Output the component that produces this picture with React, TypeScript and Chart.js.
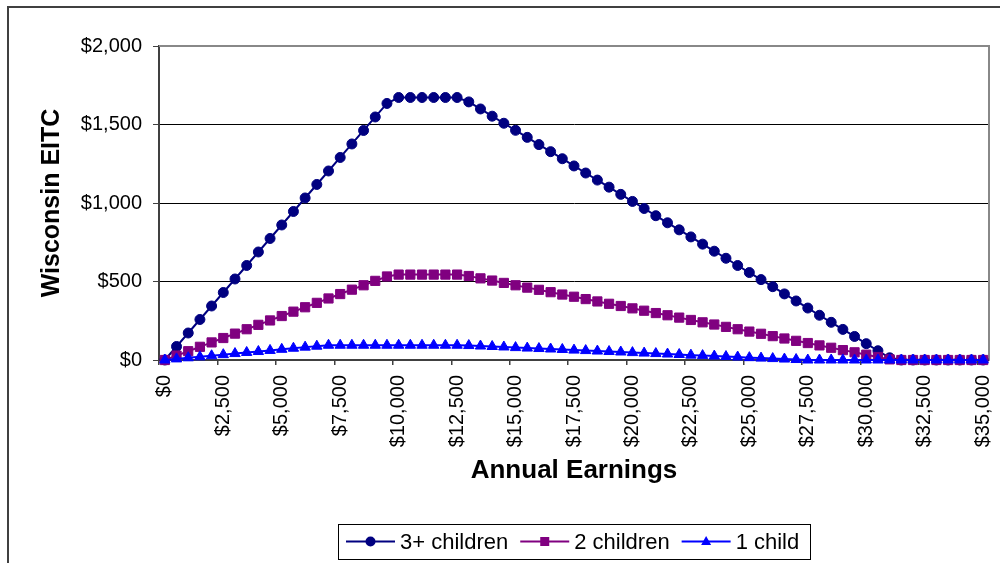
import React, { useEffect, useRef } from 'react';
import { Chart, registerables } from 'chart.js';

Chart.register(...registerables);

const earnings = [
  0, 500, 1000, 1500, 2000, 2500, 3000, 3500, 4000, 4500,
  5000, 5500, 6000, 6500, 7000, 7500, 8000, 8500, 9000, 9500,
  10000, 10500, 11000, 11500, 12000, 12500, 13000, 13500, 14000, 14500,
  15000, 15500, 16000, 16500, 17000, 17500, 18000, 18500, 19000, 19500,
  20000, 20500, 21000, 21500, 22000, 22500, 23000, 23500, 24000, 24500,
  25000, 25500, 26000, 26500, 27000, 27500, 28000, 28500, 29000, 29500,
  30000, 30500, 31000, 31500, 32000, 32500, 33000, 33500, 34000, 34500,
  35000,
];

const threePlusChildren = [
  0, 86, 172, 258, 344, 430, 516, 602, 688, 774,
  860, 946, 1032, 1118, 1204, 1290, 1376, 1462, 1548, 1634,
  1672, 1672, 1672, 1672, 1672, 1672, 1644, 1599, 1553, 1508,
  1463, 1418, 1372, 1327, 1282, 1236, 1191, 1146, 1101, 1055,
  1010, 965, 919, 874, 829, 784, 738, 693, 648, 602,
  557, 512, 467, 421, 376, 331, 285, 240, 195, 150,
  104, 59, 14, 0, 0, 0, 0, 0, 0, 0,
  0,
];

const twoChildren = [
  0, 28, 56, 84, 112, 140, 168, 196, 224, 252,
  280, 308, 336, 364, 392, 420, 448, 476, 504, 532,
  544, 544, 544, 544, 544, 544, 535, 520, 506, 491,
  476, 461, 447, 432, 417, 403, 388, 373, 358, 344,
  329, 314, 299, 285, 270, 255, 240, 226, 211, 196,
  181, 167, 152, 137, 122, 108, 93, 78, 63, 49,
  34, 19, 4, 0, 0, 0, 0, 0, 0, 0,
  0,
];

const oneChild = [
  0, 7, 14, 20, 27, 34, 41, 48, 54, 61,
  68, 75, 82, 88, 94, 94, 94, 94, 94, 94,
  94, 94, 94, 94, 94, 94, 92, 89, 86, 83,
  79, 76, 73, 70, 67, 63, 60, 57, 54, 51,
  47, 44, 41, 38, 35, 31, 28, 25, 22, 19,
  15, 12, 9, 6, 3, 0, 0, 0, 0, 0,
  0, 0, 0, 0, 0, 0, 0, 0, 0, 0,
  0,
];

const yTickValues = [0, 500, 1000, 1500, 2000];
const seriesNames = ['3+ children', '2 children', '1 child'];
const seriesColors = ['#000080', '#800080', '#0000FF'];
const seriesMarkers = ['circle', 'rect', 'triangle'];
const xTitle = 'Annual Earnings';
const yTitle = 'Wisconsin EITC';

const FONT = "'Liberation Sans', Arial, sans-serif";
const money = (v: number) => '$' + Number(v).toLocaleString('en-US');

function drawMarker(ctx: CanvasRenderingContext2D, kind: string, x: number, y: number, color: string) {
  ctx.fillStyle = color;
  ctx.beginPath();
  if (kind === 'circle') {
    ctx.arc(x, y, 5, 0, Math.PI * 2);
  } else if (kind === 'rect') {
    ctx.rect(x - 4.5, y - 4.5, 9, 9);
  } else {
    ctx.moveTo(x, y - 5.5);
    ctx.lineTo(x + 5, y + 3.5);
    ctx.lineTo(x - 5, y + 3.5);
    ctx.closePath();
  }
  ctx.fill();
}

const plotFramePlugin = {
  id: 'plotFrame',
  beforeDatasetsDraw(chart: any) {
    const { ctx, chartArea: a } = chart;
    ctx.save();
    ctx.strokeStyle = '#888888';
    ctx.lineWidth = 2;
    ctx.beginPath();
    ctx.moveTo(a.left, a.top);
    ctx.lineTo(a.right, a.top);
    ctx.lineTo(a.right, a.bottom);
    ctx.stroke();
    ctx.restore();
  },
};

const boxLegendPlugin = {
  id: 'boxLegend',
  afterDraw(chart: any) {
    const { ctx, chartArea: a } = chart;
    ctx.save();
    ctx.font = `22px ${FONT}`;
    const lineLen = 49;
    const gapText = 5;
    const gapItem = 12;
    const padL = 8;
    const padR = 11;
    const items = chart.data.datasets.map((ds: any, i: number) => ({
      label: ds.label as string,
      color: ds.borderColor as string,
      marker: seriesMarkers[i],
      w: ctx.measureText(ds.label).width,
    }));
    const total =
      padL + padR +
      items.reduce((s: number, it: any) => s + lineLen + gapText + it.w, 0) +
      gapItem * (items.length - 1);
    const cx = (a.left + a.right) / 2;
    const left = Math.round(cx - total / 2);
    const top = 524;
    const h = 35;
    const cy = top + h / 2;
    ctx.fillStyle = '#ffffff';
    ctx.fillRect(left, top, total, h);
    ctx.strokeStyle = '#000000';
    ctx.lineWidth = 1;
    ctx.strokeRect(left + 0.5, top + 0.5, Math.round(total), h);
    let x = left + padL;
    for (const it of items) {
      ctx.strokeStyle = it.color;
      ctx.lineWidth = 2;
      ctx.beginPath();
      ctx.moveTo(x, cy);
      ctx.lineTo(x + lineLen, cy);
      ctx.stroke();
      drawMarker(ctx, it.marker, x + lineLen / 2, cy, it.color);
      x += lineLen + gapText;
      ctx.fillStyle = '#000000';
      ctx.textBaseline = 'middle';
      ctx.textAlign = 'left';
      ctx.fillText(it.label, x, cy + 1);
      x += it.w + gapItem;
    }
    ctx.restore();
  },
};

export default function App() {
  const canvasRef = useRef<HTMLCanvasElement | null>(null);

  useEffect(() => {
    const canvas = canvasRef.current;
    if (!canvas) return;
    const seriesData = [threePlusChildren, twoChildren, oneChild];
    const radii = [5, 6.5, 6];
    const chart = new Chart(canvas, {
      type: 'line',
      data: {
        labels: earnings,
        datasets: seriesData.map((d, i) => ({
          label: seriesNames[i],
          data: d,
          borderColor: seriesColors[i],
          backgroundColor: seriesColors[i],
          borderWidth: 2,
          pointStyle: seriesMarkers[i] as any,
          pointRadius: radii[i],
          pointBorderWidth: 1,
          pointBorderColor: seriesColors[i],
          pointBackgroundColor: seriesColors[i],
          tension: 0,
          fill: false,
          clip: false as any,
          order: 3 - i,
        })),
      },
      options: {
        responsive: false,
        animation: false,
        events: [],
        layout: { padding: { left: 0, top: 46, right: 11, bottom: 0 } },
        plugins: {
          legend: { display: false },
          tooltip: { enabled: false },
        },
        scales: {
          x: {
            type: 'category',
            offset: true,
            grid: {
              offset: true,
              drawOnChartArea: false,
              drawTicks: true,
              tickLength: 5,
              color: (c: any) => (c.index !== undefined && c.index % 5 === 0 ? '#404040' : 'rgba(0,0,0,0)'),
              tickColor: (c: any) => (c.index !== undefined && c.index % 5 === 0 ? '#404040' : 'rgba(0,0,0,0)'),
              lineWidth: 1.5,
            },
            border: { display: true, color: '#404040', width: 2 },
            ticks: {
              autoSkip: false,
              minRotation: 90,
              maxRotation: 90,
              padding: 10,
              color: '#000000',
              font: { family: FONT, size: 20 },
              callback: (_v: any, i: number) => (i % 5 === 0 ? money(earnings[i]) : ''),
            },
            title: {
              display: true,
              text: xTitle,
              color: '#000000',
              font: { family: FONT, size: 26, weight: 'bold' },
              padding: { top: 0, bottom: 77 },
            },
            afterFit: (s: any) => {
              s.height = 203;
              s.paddingLeft = 0;
              s.paddingRight = 0;
            },
          },
          y: {
            min: 0,
            max: 2000,
            afterBuildTicks: (s: any) => {
              s.ticks = yTickValues.map((v) => ({ value: v }));
            },
            grid: {
              drawTicks: true,
              tickLength: 6,
              color: (c: any) => {
                const v = c.tick ? c.tick.value : null;
                return v === 500 || v === 1000 || v === 1500 ? '#000000' : 'rgba(0,0,0,0)';
              },
              tickColor: '#404040',
              lineWidth: 1,
            },
            border: { display: true, color: '#404040', width: 2 },
            ticks: {
              padding: 11,
              color: '#000000',
              font: { family: FONT, size: 20 },
              callback: (v: any) => money(v),
            },
            title: {
              display: true,
              text: yTitle,
              color: '#000000',
              font: { family: FONT, size: 25, weight: 'bold' },
              padding: { top: 37, bottom: 0 },
            },
            afterFit: (s: any) => {
              s.width = 159;
            },
          },
        },
      },
      plugins: [plotFramePlugin, boxLegendPlugin],
    });
    return () => chart.destroy();
  }, []);

  return (
    <div style={{ position: 'fixed', left: 0, top: 0, width: 1000, height: 563, background: '#ffffff', overflow: 'hidden' }}>
      <canvas ref={canvasRef} width={1000} height={563} style={{ position: 'absolute', left: 0, top: 0, width: 1000, height: 563 }} />
      <div
        style={{
          position: 'absolute',
          left: 7,
          top: 6,
          width: 1000,
          height: 600,
          borderLeft: '2px solid #404040',
          borderTop: '2px solid #404040',
          pointerEvents: 'none',
        }}
      />
    </div>
  );
}
